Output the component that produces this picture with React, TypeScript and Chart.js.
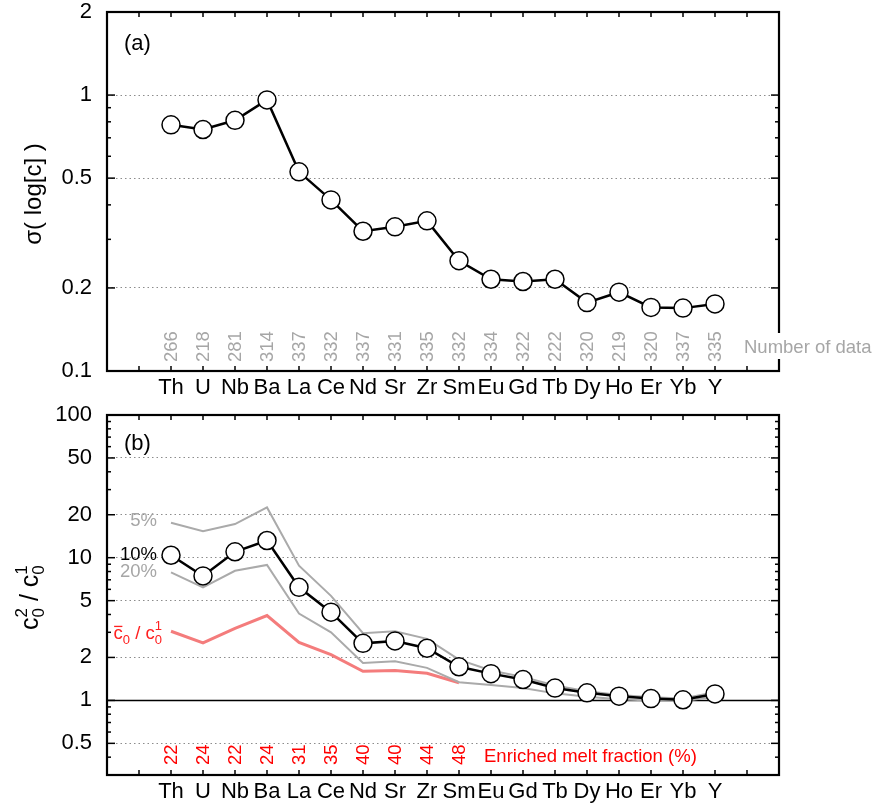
import React, { useEffect, useRef } from 'react';
import { Chart, registerables } from 'chart.js';
Chart.register(...registerables);

const FONT = "'Liberation Sans', Arial, Helvetica, sans-serif";

const elements = ['Th', 'U', 'Nb', 'Ba', 'La', 'Ce', 'Nd', 'Sr', 'Zr', 'Sm', 'Eu', 'Gd', 'Tb', 'Dy', 'Ho', 'Er', 'Yb', 'Y'];
const sigmaLogC = [0.78, 0.75, 0.81, 0.96, 0.527, 0.417, 0.321, 0.333, 0.35, 0.251, 0.215, 0.211, 0.215, 0.177, 0.193, 0.17, 0.169, 0.175];
const numberOfData = [266, 218, 281, 314, 337, 332, 337, 331, 335, 332, 334, 322, 222, 320, 219, 320, 337, 335];

const ratio10 = [10.4, 7.45, 11.0, 13.2, 6.2, 4.15, 2.51, 2.61, 2.32, 1.72, 1.54, 1.4, 1.22, 1.13, 1.07, 1.03, 1.01, 1.11];
const ratio5 = [17.6, 15.3, 17.2, 22.5, 8.8, 5.4, 2.96, 3.05, 2.7, 1.93, 1.62, 1.46, 1.27, 1.16, 1.09, 1.05, 1.03, 1.14];
const ratio20 = [7.9, 6.2, 8.1, 8.9, 4.06, 3.0, 1.83, 1.88, 1.69, 1.34, 1.28, 1.22, 1.12, 1.06, 1.02, 1.0, 0.99, 1.06];
const ratioMean = [3.05, 2.53, 3.2, 3.93, 2.55, 2.09, 1.6, 1.62, 1.55, 1.33];
const enrichedFraction = [22, 24, 22, 24, 31, 35, 40, 40, 44, 48];

const topTicks = [0.1, 0.2, 0.3, 0.4, 0.5, 0.6, 0.7, 0.8, 0.9, 1, 2];
const topMajor = [0.1, 0.2, 0.5, 1, 2];
const topGrid = [0.2, 0.5, 1];
const bottomTicks = [0.3, 0.4, 0.5, 0.6, 0.7, 0.8, 0.9, 1, 2, 3, 4, 5, 6, 7, 8, 9, 10, 20, 30, 40, 50, 60, 70, 80, 90, 100];
const bottomMajor = [0.5, 1, 2, 5, 10, 20, 50, 100];
const bottomGrid = [0.5, 2, 5, 10, 20, 50];

const xTickValues: number[] = [];
for (let i = -2; i <= 19; i++) xTickValues.push(i);

const toPts = (arr: number[]) => arr.map((v, i) => ({ x: i, y: v }));

function line(ctx: CanvasRenderingContext2D, x1: number, y1: number, x2: number, y2: number) {
  ctx.beginPath();
  ctx.moveTo(x1, y1);
  ctx.lineTo(x2, y2);
  ctx.stroke();
}

function drawFrame(chart: any, yTicks: number[], yMajor: number[]) {
  const { ctx, chartArea, scales } = chart;
  const { left, right, top, bottom } = chartArea;
  const x = scales.x;
  const y = scales.y;
  ctx.save();
  ctx.strokeStyle = '#000';
  ctx.lineWidth = 1.5;
  for (let i = -1; i <= 18; i++) {
    const px = x.getPixelForValue(i);
    line(ctx, px, bottom, px, bottom - 5);
    line(ctx, px, top, px, top + 5);
  }
  for (const v of yTicks) {
    const len = yMajor.includes(v) ? 8 : 4;
    const py = y.getPixelForValue(v);
    line(ctx, left, py, left + len, py);
    line(ctx, right, py, right - len, py);
  }
  ctx.lineWidth = 2.2;
  ctx.strokeRect(left, top, right - left, bottom - top);
  ctx.restore();
}

function drawPieces(ctx: CanvasRenderingContext2D, pieces: [string, number, number, boolean?][], x0: number, y0: number) {
  let cx = x0;
  for (const [t, size, dy, over] of pieces) {
    ctx.font = `${size}px ${FONT}`;
    ctx.fillText(t, cx, y0 + dy);
    const w = ctx.measureText(t).width;
    if (over) {
      ctx.save();
      ctx.lineWidth = 1.3;
      ctx.strokeStyle = ctx.fillStyle as string;
      line(ctx, cx + 0.5, y0 + dy - size * 0.68, cx + w - 0.5, y0 + dy - size * 0.68);
      ctx.restore();
    }
    cx += w;
  }
  return cx - x0;
}

function piecesWidth(ctx: CanvasRenderingContext2D, pieces: [string, number, number, boolean?][]) {
  let w = 0;
  for (const [t, size] of pieces) {
    ctx.font = `${size}px ${FONT}`;
    w += ctx.measureText(t).width;
  }
  return w;
}

function makeOptions(yMin: number, yMax: number, yTicks: number[], yMajor: number[], yGrid: number[], pad: any, xHeight: number) {
  return {
    animation: false,
    responsive: false,
    maintainAspectRatio: false,
    layout: { padding: pad },
    plugins: { legend: { display: false }, tooltip: { enabled: false } },
    scales: {
      x: {
        type: 'linear',
        min: -2,
        max: 19,
        afterBuildTicks: (s: any) => {
          s.ticks = xTickValues.map((v) => ({ value: v }));
        },
        afterFit: (s: any) => {
          s.height = xHeight;
          s.paddingLeft = 0;
          s.paddingRight = 0;
          s.paddingTop = 0;
          s.paddingBottom = 0;
        },
        ticks: {
          autoSkip: false,
          maxRotation: 0,
          minRotation: 0,
          padding: 4,
          color: '#000',
          font: { family: FONT, size: 22 },
          callback: (v: any) => (elements[v as number] !== undefined ? elements[v as number] : ''),
        },
        grid: { display: false, drawTicks: false },
        border: { display: false },
      },
      y: {
        type: 'logarithmic',
        min: yMin,
        max: yMax,
        afterBuildTicks: (s: any) => {
          s.ticks = yTicks.map((v) => ({ value: v }));
        },
        afterFit: (s: any) => {
          s.width = 107;
          s.paddingLeft = 0;
          s.paddingRight = 0;
          s.paddingTop = 0;
          s.paddingBottom = 0;
        },
        ticks: {
          autoSkip: false,
          padding: 15,
          color: '#000',
          font: { family: FONT, size: 22, lineHeight: 1 },
          callback: (v: any) => (yMajor.includes(v as number) ? String(v) : ''),
        },
        grid: {
          drawTicks: false,
          lineWidth: 1,
          color: (c: any) => (c.tick && yGrid.includes(c.tick.value) ? '#8c8c8c' : 'rgba(0,0,0,0)'),
        },
        border: { display: false, dash: [1.5, 3] },
      },
    },
  };
}

function TopChart() {
  const ref = useRef<HTMLCanvasElement>(null);
  useEffect(() => {
    const annot = {
      id: 'topAnnot',
      afterDraw(chart: any) {
        drawFrame(chart, topTicks, topMajor);
        const { ctx, chartArea, scales } = chart;
        const x = scales.x;
        ctx.save();
        ctx.fillStyle = '#a6a6a6';
        ctx.font = `18.5px ${FONT}`;
        numberOfData.forEach((n, i) => {
          const px = x.getPixelForValue(i);
          ctx.save();
          ctx.translate(px + 1, chartArea.bottom - 9);
          ctx.rotate(-Math.PI / 2);
          ctx.textAlign = 'left';
          ctx.textBaseline = 'middle';
          ctx.fillText(String(n), 0, 0);
          ctx.restore();
        });
        ctx.fillStyle = '#fff';
        ctx.fillRect(741, 333, 135, 26);
        ctx.fillStyle = '#a6a6a6';
        ctx.textAlign = 'left';
        ctx.textBaseline = 'middle';
        ctx.fillText('Number of data', 744, 348);
        ctx.fillStyle = '#000';
        ctx.font = `22px ${FONT}`;
        ctx.fillText('(a)', 124, 44);
        ctx.save();
        ctx.translate(34, 194);
        ctx.rotate(-Math.PI / 2);
        ctx.textAlign = 'center';
        ctx.textBaseline = 'middle';
        ctx.font = `24px ${FONT}`;
        ctx.fillText('\u03c3( log[c] )', 0, 0);
        ctx.restore();
        ctx.restore();
      },
    };
    const chart = new Chart(ref.current as HTMLCanvasElement, {
      type: 'line',
      data: {
        datasets: [
          {
            data: toPts(sigmaLogC),
            borderColor: '#000',
            borderWidth: 2.5,
            pointRadius: 9,
            pointBorderWidth: 1.5,
            pointBackgroundColor: '#fff',
            pointBorderColor: '#000',
            tension: 0,
          },
        ],
      },
      options: makeOptions(0.1, 2, topTicks, topMajor, topGrid, { left: 0, right: 100, top: 12, bottom: 0 }, 29) as any,
      plugins: [annot],
    });
    return () => chart.destroy();
  }, []);
  return <canvas ref={ref} width={879} height={400} style={{ position: 'absolute', left: 0, top: 0, width: 879, height: 400 }} />;
}

function BottomChart() {
  const ref = useRef<HTMLCanvasElement>(null);
  useEffect(() => {
    const annot = {
      id: 'bottomAnnot',
      afterDraw(chart: any) {
        drawFrame(chart, bottomTicks, bottomMajor);
        const { ctx, chartArea, scales } = chart;
        const x = scales.x;
        ctx.save();
        ctx.fillStyle = '#ff0000';
        ctx.font = `18.5px ${FONT}`;
        enrichedFraction.forEach((n, i) => {
          const px = x.getPixelForValue(i);
          ctx.save();
          ctx.translate(px + 1, chartArea.bottom - 10);
          ctx.rotate(-Math.PI / 2);
          ctx.textAlign = 'left';
          ctx.textBaseline = 'middle';
          ctx.fillText(String(n), 0, 0);
          ctx.restore();
        });
        ctx.textAlign = 'left';
        ctx.textBaseline = 'middle';
        ctx.fillText('Enriched melt fraction (%)', 484, 357);
        ctx.fillStyle = '#000';
        ctx.font = `22px ${FONT}`;
        ctx.fillText('(b)', 124, 44);
        ctx.font = `18.5px ${FONT}`;
        ctx.textAlign = 'right';
        ctx.fillStyle = '#a6a6a6';
        ctx.fillText('5%', 157, 121);
        ctx.fillText('20%', 157, 172);
        ctx.fillStyle = '#000';
        ctx.fillText('10%', 157, 155);
        ctx.textAlign = 'left';
        ctx.textBaseline = 'alphabetic';
        ctx.fillStyle = '#ff2020';
        const redPieces: [string, number, number, boolean?][] = [
          ['c', 18.5, 0, true],
          ['0', 13, 5],
          [' / c', 18.5, 0],
          ['0', 13, 5],
        ];
        const rw = piecesWidth(ctx, redPieces);
        const rx = 162 - rw;
        const endX = rx + drawPieces(ctx, redPieces, rx, 239);
        ctx.font = `13px ${FONT}`;
        ctx.fillText('1', endX - ctx.measureText('0').width, 239 - 9);
        ctx.save();
        ctx.translate(38, 230);
        ctx.rotate(-Math.PI / 2);
        ctx.fillStyle = '#000';
        const yPieces: [string, number, number, boolean?][] = [
          ['c', 25, 0],
          ['0', 17, 6],
          [' / c', 25, 0],
          ['0', 17, 6],
        ];
        drawPieces(ctx, yPieces, 0, 0);
        ctx.font = `25px ${FONT}`;
        const cw = ctx.measureText('c').width;
        const sw = ctx.measureText(' / c').width;
        ctx.font = `17px ${FONT}`;
        const dw = ctx.measureText('0').width;
        ctx.fillText('2', cw, -11);
        ctx.fillText('1', cw + dw + sw, -11);
        ctx.restore();
        ctx.restore();
      },
    };
    const chart = new Chart(ref.current as HTMLCanvasElement, {
      type: 'line',
      data: {
        datasets: [
          {
            data: toPts(ratio10),
            borderColor: '#000',
            borderWidth: 2.5,
            pointRadius: 9,
            pointBorderWidth: 1.5,
            pointBackgroundColor: '#fff',
            pointBorderColor: '#000',
            tension: 0,
          },
          { data: toPts(ratio5), borderColor: '#aaaaaa', borderWidth: 2, pointRadius: 0, tension: 0 },
          { data: toPts(ratio20), borderColor: '#aaaaaa', borderWidth: 2, pointRadius: 0, tension: 0 },
          { data: toPts(ratioMean), borderColor: '#f47c7c', borderWidth: 3, pointRadius: 0, tension: 0 },
          {
            data: [
              { x: -2, y: 1 },
              { x: 19, y: 1 },
            ],
            borderColor: '#000',
            borderWidth: 1.5,
            pointRadius: 0,
            tension: 0,
          },
        ],
      },
      options: makeOptions(0.3, 100, bottomTicks, bottomMajor, bottomGrid, { left: 0, right: 100, top: 15, bottom: 0 }, 37) as any,
      plugins: [annot],
    });
    return () => chart.destroy();
  }, []);
  return <canvas ref={ref} width={879} height={412} style={{ position: 'absolute', left: 0, top: 400, width: 879, height: 412 }} />;
}

export default function App() {
  return (
    <div style={{ position: 'absolute', left: 0, top: 0, width: 879, height: 812, background: '#fff', overflow: 'hidden' }}>
      <TopChart />
      <BottomChart />
    </div>
  );
}
